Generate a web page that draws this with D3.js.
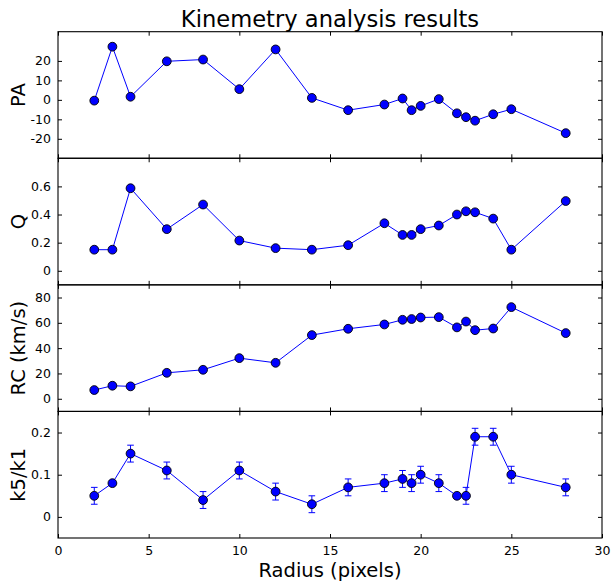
<!DOCTYPE html>
<html>
<head>
<meta charset="utf-8">
<script src="https://cdn.jsdelivr.net/npm/d3@7"></script>
<style>
  html, body { margin: 0; padding: 0; background: #fff; }
  svg { display: block; font-family: "DejaVu Sans", sans-serif; }
</style>
</head>
<body>
<svg id="chart" width="614" height="581"></svg>
<script>
// Kinemetry results as a function of radius
const radius = [2, 3, 4, 6, 8, 10, 12, 14, 16, 18, 19, 19.5, 20, 21, 22, 22.5, 23, 24, 25, 28];
const pa = [-0.4, 27.3, 1.6, 19.8, 20.7, 5.5, 25.9, 1.0, -5.3, -2.4, 0.7, -5.3, -3.1, 0.4, -6.9, -8.9, -10.7, -7.4, -4.8, -17.1];
const q = [0.15, 0.15, 0.587, 0.296, 0.471, 0.215, 0.161, 0.15, 0.182, 0.338, 0.255, 0.255, 0.296, 0.322, 0.40, 0.423, 0.416, 0.371, 0.15, 0.496];
const rc = [6.9, 10.3, 9.8, 20.5, 22.9, 32.1, 28.4, 50.3, 55.3, 58.7, 62.4, 63.0, 64.2, 64.5, 56.4, 61.0, 54.2, 55.5, 72.4, 51.9];
const k5k1 = [0.05, 0.08, 0.15, 0.11, 0.04, 0.11, 0.06, 0.03, 0.07, 0.08, 0.09, 0.08, 0.10, 0.08, 0.05, 0.05, 0.19, 0.19, 0.10, 0.07];
const k5k1Err = [0.02, 0.005, 0.02, 0.02, 0.02, 0.02, 0.02, 0.02, 0.02, 0.02, 0.02, 0.02, 0.02, 0.02, 0.005, 0.02, 0.02, 0.02, 0.02, 0.02];

const xTicks = [0, 5, 10, 15, 20, 25, 30];
const panels = [
  { label: "PA", values: pa, domain: [-30, 35], ticks: [-20, -10, 0, 10, 20], fmt: d => String(d) },
  { label: "Q", values: q, domain: [-0.1, 0.8], ticks: [0, 0.2, 0.4, 0.6], fmt: d => d === 0 ? "0" : String(d) },
  { label: "RC (km/s)", values: rc, domain: [-10, 90], ticks: [0, 20, 40, 60, 80], fmt: d => String(d) },
  { label: "k5/k1", values: k5k1, err: k5k1Err, domain: [-0.05, 0.25], ticks: [0, 0.1, 0.2], fmt: d => d === 0 ? "0" : String(d) }
];

const svg = d3.select("#chart");
const plotLeft = 58, plotRight = 602, plotTop = 31.7, plotBottom = 538;
const panelH = (plotBottom - plotTop) / panels.length;
const tickLen = 4;
const blue = "#0000ff";

const x = d3.scaleLinear().domain([0, 30]).range([plotLeft, plotRight]);

svg.append("text")
  .attr("x", (plotLeft + plotRight) / 2).attr("y", 26.5)
  .attr("text-anchor", "middle")
  .attr("font-size", 22.6)
  .text("Kinemetry analysis results");

panels.forEach((p, i) => {
  const y0 = plotTop + i * panelH, y1 = y0 + panelH;
  const y = d3.scaleLinear().domain(p.domain).range([y1, y0]);
  const g = svg.append("g");

  // connecting line
  g.append("path")
    .datum(radius.map((r, j) => [r, p.values[j]]))
    .attr("fill", "none").attr("stroke", blue).attr("stroke-width", 1)
    .attr("d", d3.line().x(d => x(d[0])).y(d => y(d[1])));

  // error bars
  if (p.err) {
    const eb = g.selectAll(".eb").data(radius.map((r, j) => ({ r, v: p.values[j], e: p.err[j] })))
      .enter().append("g").attr("stroke", blue).attr("stroke-width", 1);
    eb.append("line")
      .attr("x1", d => x(d.r)).attr("x2", d => x(d.r))
      .attr("y1", d => y(d.v - d.e)).attr("y2", d => y(d.v + d.e));
    [-1, 1].forEach(s => {
      eb.append("line")
        .attr("x1", d => x(d.r) - 3.3).attr("x2", d => x(d.r) + 3.3)
        .attr("y1", d => y(d.v + s * d.e)).attr("y2", d => y(d.v + s * d.e));
    });
  }

  // markers
  g.selectAll("circle").data(radius.map((r, j) => [r, p.values[j]]))
    .enter().append("circle")
    .attr("cx", d => x(d[0])).attr("cy", d => y(d[1]))
    .attr("r", 4.4)
    .attr("fill", blue).attr("stroke", "#000").attr("stroke-width", 0.9);

  // axes with inward ticks on all four sides
  const yAxisL = d3.axisLeft(y).tickValues(p.ticks).tickSize(-tickLen).tickPadding(7).tickFormat(p.fmt);
  const yAxisR = d3.axisRight(y).tickValues(p.ticks).tickSize(-tickLen).tickFormat("");
  const xAxisB = d3.axisBottom(x).tickValues(xTicks).tickSize(-tickLen).tickPadding(8)
    .tickFormat(i === panels.length - 1 ? d3.format("d") : "");
  const xAxisT = d3.axisTop(x).tickValues(xTicks).tickSize(-tickLen).tickFormat("");

  const axes = [
    g.append("g").attr("transform", `translate(${plotLeft},0)`).call(yAxisL),
    g.append("g").attr("transform", `translate(${plotRight},0)`).call(yAxisR),
    g.append("g").attr("transform", `translate(0,${y1})`).call(xAxisB),
    g.append("g").attr("transform", `translate(0,${y0})`).call(xAxisT)
  ];
  axes.forEach(a => {
    a.select(".domain").remove();
    a.selectAll("line").attr("stroke", "#000").attr("stroke-width", 1);
    a.selectAll("text").attr("font-size", 12.5).attr("fill", "#000")
      .attr("font-family", "DejaVu Sans, sans-serif");
  });

  // frame
  g.append("rect")
    .attr("x", plotLeft).attr("y", y0).attr("width", plotRight - plotLeft).attr("height", panelH)
    .attr("fill", "none").attr("stroke", "#000").attr("stroke-width", 1.1);

  // y label
  g.append("text")
    .attr("transform", `translate(24.5,${(y0 + y1) / 2}) rotate(-90)`)
    .attr("text-anchor", "middle")
    .attr("font-size", 19.5)
    .text(p.label);
});

svg.append("text")
  .attr("x", (plotLeft + plotRight) / 2).attr("y", 577)
  .attr("text-anchor", "middle")
  .attr("font-size", 19.5)
  .text("Radius (pixels)");
</script>
</body>
</html>
